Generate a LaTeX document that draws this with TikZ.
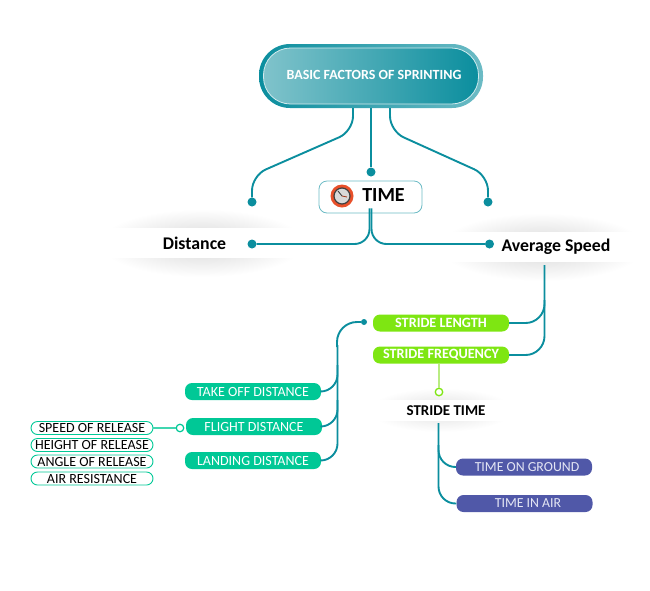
\documentclass[tikz,border=0pt]{standalone}
\usepackage{fontspec}
\setmainfont{Carlito}
\usetikzlibrary{shapes.geometric}
\definecolor{tealline}{HTML}{0B8E9E}
\definecolor{tealsoft}{HTML}{6CBBC5}
\definecolor{tealpale}{HTML}{80C3CB}
\definecolor{limepill}{HTML}{7EE612}
\definecolor{limesoft}{HTML}{B9EC82}
\definecolor{mintpill}{HTML}{00C896}
\definecolor{indigopill}{HTML}{5058A8}
\definecolor{indigotext}{HTML}{E4E6F4}
\definecolor{clockring}{HTML}{E8502A}
\begin{document}
\begin{tikzpicture}[x=1pt,y=-1pt,
    link/.style={draw=tealline,line width=1.9pt,rounded corners=17pt},
    dot/.style={circle,fill=tealline,inner sep=0pt,minimum size=9pt},
    pill/.style={rectangle,rounded corners=7pt,inner sep=0pt,text=white,minimum width=136pt,minimum height=17pt},
    limenode/.style={pill,fill=limepill,font=\fontsize{14.2}{16}\selectfont\bfseries},
    mintnode/.style={pill,fill=mintpill,font=\fontsize{14}{16}\selectfont},
    indigonode/.style={pill,fill=indigopill,text=indigotext,font=\fontsize{13.8}{16}\selectfont},
    outlinenode/.style={rectangle,rounded corners=6.5pt,draw=mintpill,line width=.9pt,fill=white,inner sep=0pt,minimum width=122pt,minimum height=13pt,font=\fontsize{14}{15}\selectfont},
    glow/.style={ellipse,shading=radial,inner color=black!16,outer color=white,inner sep=0pt},
    band/.style={rectangle,fill=white,inner sep=0pt},
    ringdot/.style={circle,fill=white,inner sep=0pt,minimum size=7.5pt}
  ]
  \useasboundingbox (0,0) rectangle (650,590);
  % top node
  \node[rectangle,rounded corners=31pt,left color=tealline,right color=tealsoft,minimum width=224pt,minimum height=64pt,inner sep=0pt] (rootrim) at (371,76) {};
  \node[rectangle,rounded corners=27pt,draw=white!70!tealsoft,line width=.8pt,left color=tealpale,right color=tealline,minimum width=215pt,minimum height=56pt,inner sep=0pt] (root) at (371,76) {};
  \node[text=white,font=\fontsize{14}{16}\selectfont\bfseries,inner sep=0pt] (rootlabel) at (374,75) {BASIC FACTORS OF SPRINTING};
  % first row
  \node[dot] (distdot) at (252,202) {};
  \node[dot] (timedot) at (371,172) {};
  \node[dot] (speeddot) at (488,202) {};
  \node[rectangle,rounded corners=8pt,draw=tealsoft,line width=.8pt,fill=white,minimum width=103pt,minimum height=32pt,inner sep=0pt] (time) at (370.5,197) {};
  \node[text=black,font=\fontsize{20}{22}\selectfont\bfseries,inner sep=0pt] (timelabel) at (383.5,195.5) {TIME};
  % clock icon
  \node[circle,fill=clockring,inner sep=0pt,minimum size=23pt] (clockrim) at (342,196) {};
  \node[circle,draw=black!75,line width=1.2pt,fill=black!15,inner sep=0pt,minimum size=16pt] (clockface) at (342,196) {};
  \draw[black!80,line width=.8pt] (clockface.center) -- ++(-4,-5);
  \draw[clockring!70!black,line width=.8pt] (clockface.center) -- ++(5,1);
  % second row
  \node[glow,minimum width=205pt,minimum height=68pt] (distglow) at (202,243) {};
  \node[band,minimum width=208pt,minimum height=30pt] (distband) at (202,243) {};
  \node[font=\fontsize{17.8}{20}\selectfont\bfseries,inner sep=0pt] (distance) at (194.5,243) {Distance};
  \node[glow,minimum width=205pt,minimum height=68pt] (speedglow) at (542,247) {};
  \node[band,minimum width=208pt,minimum height=30pt] (speedband) at (542,247) {};
  \node[font=\fontsize{17.8}{20}\selectfont\bfseries,inner sep=0pt] (speed) at (556,246.5) {Average Speed};
  \node[dot] (distancedot) at (252,244) {};
  \node[dot] (speedenddot) at (489.5,244) {};
  % stride nodes
  \node[glow,inner color=black!12,minimum width=145pt,minimum height=44pt] (strideglow) at (441,410) {};
  \node[band,minimum width=148pt,minimum height=21pt] (strideband) at (441,410) {};
  \node[font=\fontsize{15}{17}\selectfont\bfseries,inner sep=0pt] (stridetime) at (446,411) {STRIDE TIME};
  \node[limenode] (length) at (441,323) {STRIDE LENGTH};
  \node[limenode] (frequency) at (441,355) {STRIDE FREQUENCY};
  \node[circle,fill=tealline,inner sep=0pt,minimum size=6pt] (lengthdot) at (364,322) {};
  \node[ringdot,draw=limepill,line width=1.3pt] (freqring) at (439,392) {};
  \node[indigonode] (ground) at (524,467) {\hspace*{6pt}TIME ON GROUND};
  \node[indigonode] (air) at (524.5,503.5) {\hspace*{7pt}TIME IN AIR};
  % distance nodes
  \node[mintnode] (takeoff) at (253,391.5) {TAKE OFF DISTANCE};
  \node[mintnode] (flight) at (254,426.5) {FLIGHT DISTANCE};
  \node[mintnode] (landing) at (253,460.5) {LANDING DISTANCE};
  \node[ringdot,draw=mintpill,line width=1.2pt] (flightring) at (180,428) {};
  \node[outlinenode] (release) at (92,428) {SPEED OF RELEASE};
  \node[outlinenode] (height) at (92,445) {HEIGHT OF RELEASE};
  \node[outlinenode] (angle) at (92,461.5) {ANGLE OF RELEASE};
  \node[outlinenode] (resistance) at (92,478.5) {AIR RESISTANCE};
  % connectors
  \draw[link,rounded corners=15pt] ([xshift=-18pt]rootrim.south) -- ++(0,23) -- (252,175.5) -- (distdot);
  \draw[link] (timedot |- rootrim.south) -- (timedot);
  \draw[link,rounded corners=15pt] ([xshift=19pt]rootrim.south) -- ++(0,23) -- (488,175.5) -- (speeddot);
  \draw[link,rounded corners=15pt] ([xshift=-1pt,yshift=5pt]time.south) |- (distancedot);
  \draw[link,rounded corners=15pt] ([xshift=1pt,yshift=5pt]time.south) |- (speedenddot);
  \draw[link,rounded corners=19pt] (544.5,265) |- (frequency.east);
  \draw[link,rounded corners=19pt] (544.5,300) |- (length.east);
  \draw[link,rounded corners=20pt] (lengthdot) -| (337,347);
  \draw[link] (337.5,345) |- (landing.east);
  \draw[link] (337.5,365) |- (takeoff.east);
  \draw[link] (337.5,400) |- (flight.east);
  \draw[link] (438.5,423) |- (air.west);
  \draw[link] (438.5,445) |- (ground.west);
  \draw[draw=limesoft,line width=1.4pt] (freqring |- frequency.south) -- (freqring);
  \draw[draw=mintpill!75,line width=1.2pt] (release) -- (flightring);
\end{tikzpicture}
\end{document}
